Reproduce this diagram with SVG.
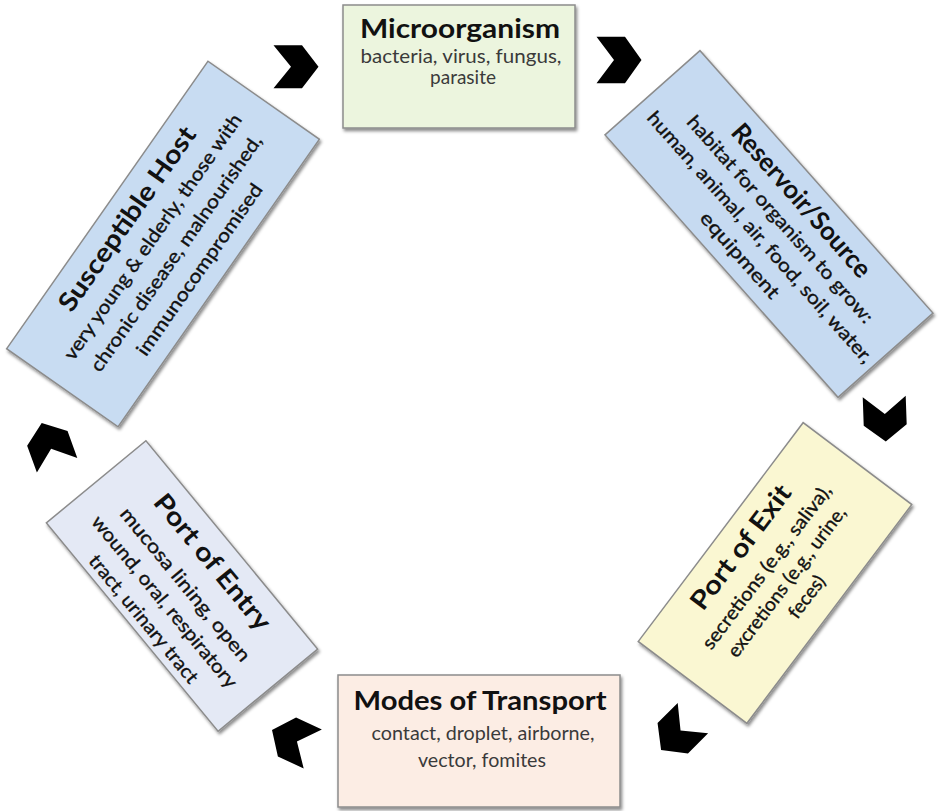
<svg xmlns="http://www.w3.org/2000/svg" width="942" height="811" viewBox="0 0 942 811">
<defs>
<filter id="sh" x="-15%" y="-15%" width="130%" height="130%">
<feDropShadow dx="1.5" dy="2.5" stdDeviation="1.5" flood-color="#000" flood-opacity="0.45"/>
</filter>
<path id="chev" d="M-22.5,-21.5 L6,-21.5 L22.5,0 L6,21.5 L-22.5,21.5 L-5,0 Z"/>
</defs>
<style>
.box{stroke:#8c8c8c;stroke-width:1.5}
.t{font-family:Lato,"Open Sans",sans-serif;font-weight:700;font-size:26px;fill:#111;text-anchor:middle}
.b{font-family:Lato,"Open Sans",sans-serif;font-size:19px;fill:#111;text-anchor:middle}
.r{stroke:#111;stroke-width:0.35}
.g{fill:#3a3a3a}
.chev{fill:#000}
</style>
<rect width="942" height="811" fill="#fff"/>

<g id="microorganism">
<g filter="url(#sh)"><rect class="box" x="343" y="5" width="232" height="123" fill="#ecf5de"/></g>
<text class="t" x="460" y="38" textLength="200" lengthAdjust="spacingAndGlyphs">Microorganism</text>
<text class="b g" x="461" y="63" textLength="201" lengthAdjust="spacingAndGlyphs">bacteria, virus, fungus,</text>
<text class="b g" x="463" y="84">parasite</text>
</g>

<g id="reservoir">
<g filter="url(#sh)"><rect class="box" x="-175.5" y="-63.5" width="351" height="127" fill="#c6daf1" transform="translate(769,224) rotate(48.4)"/></g>
<g transform="translate(769,224) rotate(48.4)">
<text class="t" x="4" y="-31" textLength="196" lengthAdjust="spacingAndGlyphs">Reservoir/Source</text>
<text class="b r" x="4" y="-5" textLength="270" lengthAdjust="spacingAndGlyphs">habitat for organism to grow:</text>
<text class="b r" x="4" y="22" textLength="329" lengthAdjust="spacingAndGlyphs">human, animal, air, food, soil, water,</text>
<text class="b r" x="4" y="49" textLength="109" lengthAdjust="spacingAndGlyphs">equipment</text>
</g>
</g>

<g id="port-of-exit">
<g filter="url(#sh)"><rect class="box" x="-137" y="-68" width="274" height="136" fill="#faf7d2" transform="translate(775,573) rotate(-53)"/></g>
<g transform="translate(775,573) rotate(-53)">
<text class="t" x="0" y="-34" textLength="149" lengthAdjust="spacingAndGlyphs">Port of Exit</text>
<text class="b r" x="0" y="-4" textLength="201" lengthAdjust="spacingAndGlyphs">secretions (e.g., saliva),</text>
<text class="b r" x="0" y="21" textLength="183" lengthAdjust="spacingAndGlyphs">excretions (e.g., urine,</text>
<text class="b r" x="0" y="46">feces)</text>
</g>
</g>

<g id="modes-of-transport">
<g filter="url(#sh)"><rect class="box" x="338" y="675" width="282" height="132" fill="#fcede4"/></g>
<text class="t" x="480" y="710" textLength="253" lengthAdjust="spacingAndGlyphs">Modes of Transport</text>
<text class="b g" x="483" y="740" textLength="223" lengthAdjust="spacingAndGlyphs">contact, droplet, airborne,</text>
<text class="b g" x="482" y="767" textLength="128" lengthAdjust="spacingAndGlyphs">vector, fomites</text>
</g>

<g id="port-of-entry">
<g filter="url(#sh)"><rect class="box" x="-135" y="-64.5" width="270" height="129" fill="#e4e9f5" transform="translate(182,586) rotate(50.5)"/></g>
<g transform="translate(182,586) rotate(50.5)">
<text class="t" x="1" y="-30" textLength="168" lengthAdjust="spacingAndGlyphs">Port of Entry</text>
<text class="b r" x="1" y="3" textLength="193" lengthAdjust="spacingAndGlyphs">mucosa lining, open</text>
<text class="b r" x="1" y="30" textLength="217" lengthAdjust="spacingAndGlyphs">wound, oral, respiratory</text>
<text class="b r" x="1" y="57" textLength="160" lengthAdjust="spacingAndGlyphs">tract, urinary tract</text>
</g>
</g>

<g id="susceptible-host">
<g filter="url(#sh)"><rect class="box" x="-175.5" y="-68" width="351" height="136" fill="#c8dcf2" transform="translate(163,244) rotate(-55)"/></g>
<g transform="translate(163,244) rotate(-55)">
<text class="t" x="0" y="-35" textLength="219" lengthAdjust="spacingAndGlyphs">Susceptible Host</text>
<text class="b r" x="0" y="-6" textLength="295" lengthAdjust="spacingAndGlyphs">very young &amp; elderly, those with</text>
<text class="b r" x="0" y="22.5" textLength="284" lengthAdjust="spacingAndGlyphs">chronic disease, malnourished,</text>
<text class="b r" x="0" y="51" textLength="205" lengthAdjust="spacingAndGlyphs">immunocompromised</text>
</g>
</g>

<g id="connectors">
<use href="#chev" class="chev" transform="translate(296,66.7)"/>
<use href="#chev" class="chev" transform="translate(619,60) scale(1,1.08)"/>
<use href="#chev" class="chev" transform="translate(885,419) rotate(88)"/>
<use href="#chev" class="chev" transform="translate(677,734) rotate(135)"/>
<use href="#chev" class="chev" transform="translate(292.4,739.5) rotate(205)"/>
<use href="#chev" class="chev" transform="translate(49.4,444.1) rotate(250)"/>
</g>
</svg>
